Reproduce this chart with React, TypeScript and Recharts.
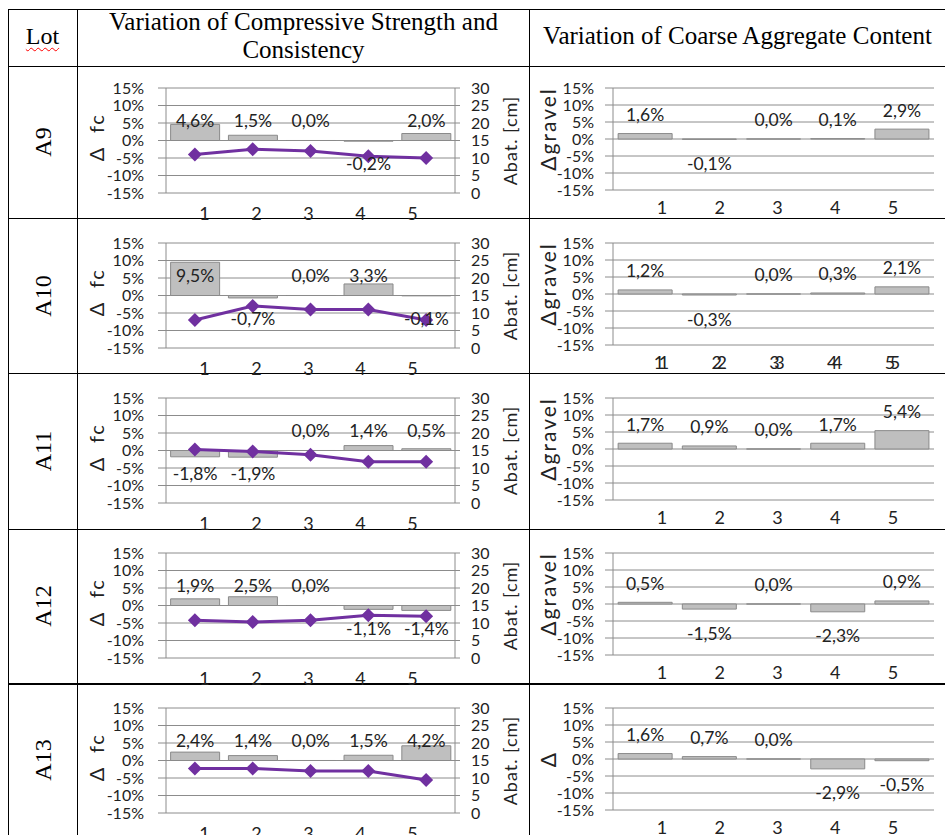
import React from "react";
import { ComposedChart, BarChart, Bar, Line, XAxis, YAxis, CartesianGrid, LabelList } from "recharts";

const LOTS = ["A9", "A10", "A11", "A12", "A13"];
const SAMPLES = ["1", "2", "3", "4", "5"];

// variation of compressive strength, Δ fc (%)
const FC_A9 = [4.6, 1.5, 0.0, -0.2, 2.0];
const FC_A10 = [9.5, -0.7, 0.0, 3.3, -0.1];
const FC_A11 = [-1.8, -1.9, 0.0, 1.4, 0.5];
const FC_A12 = [1.9, 2.5, 0.0, -1.1, -1.4];
const FC_A13 = [2.4, 1.4, 0.0, 1.5, 4.2];

// slump, Abat. (cm)
const SLUMP_A9 = [11, 12.5, 12, 10.5, 10];
const SLUMP_A10 = [8, 12, 11, 11, 8];
const SLUMP_A11 = [15.3, 14.7, 13.8, 11.8, 11.8];
const SLUMP_A12 = [10.8, 10.3, 10.8, 12.2, 11.9];
const SLUMP_A13 = [12.7, 12.7, 12, 12, 9.4];

// variation of coarse aggregate content, Δ gravel (%)
const GRAVEL_A9 = [1.6, -0.1, 0.0, 0.1, 2.9];
const GRAVEL_A10 = [1.2, -0.3, 0.0, 0.3, 2.1];
const GRAVEL_A11 = [1.7, 0.9, 0.0, 1.7, 5.4];
const GRAVEL_A12 = [0.5, -1.5, 0.0, -2.3, 0.9];
const GRAVEL_A13 = [1.6, 0.7, 0.0, -2.9, -0.5];

const GRAVEL_TITLES = ["Δgravel", "Δgravel", "Δgravel", "Δgravel", "Δ"];

const PCT_TICKS = [-15, -10, -5, 0, 5, 10, 15];
const CM_TICKS = [0, 5, 10, 15, 20, 25, 30];

const FC = [FC_A9, FC_A10, FC_A11, FC_A12, FC_A13];
const SLUMP = [SLUMP_A9, SLUMP_A10, SLUMP_A11, SLUMP_A12, SLUMP_A13];
const GRAVEL = [GRAVEL_A9, GRAVEL_A10, GRAVEL_A11, GRAVEL_A12, GRAVEL_A13];

// table layout
const ROW_TOPS = [66, 218, 373, 529, 683];
const PLOT_TOPS = [88, 243, 398, 553, 708];
const V_LINES = [8, 77, 529];

const SANS = "Lato, 'Open Sans', sans-serif";
const SERIF = "'Liberation Serif', 'Times New Roman', serif";
const GRID = "#8c8c8c";
const BAR_FILL = "#bfbfbf";
const BAR_STROKE = "#8a8a8a";
const PURPLE = "#7030a0";
const INK = "#222";

const fmt = (v: number) => `${v.toFixed(1).replace(".", ",")}%`;

function edges(p: any) {
  const y = Number(p.y);
  const h = Number(p.height) || 0;
  return { top: Math.min(y, y + h), bottom: Math.max(y, y + h) };
}

// left charts: labels sit at a fixed distance from the zero line
function FixedLabel(p: any) {
  const s = String(p.value);
  const neg = s.startsWith("-");
  const { top, bottom } = edges(p);
  const ty = neg ? top + 23 : bottom - 20;
  return (
    <text x={p.x + p.width / 2} y={ty} textAnchor="middle" dominantBaseline="central"
      fontFamily={SANS} fontSize={17.5} fill={INK}>
      {s}
    </text>
  );
}

// right charts: labels just outside the bar end
function EndLabel(p: any) {
  const s = String(p.value);
  const neg = s.startsWith("-");
  const { top, bottom } = edges(p);
  const ty = neg ? bottom + 24 : top - 19;
  return (
    <text x={p.x + p.width / 2} y={ty} textAnchor="middle" dominantBaseline="central"
      fontFamily={SANS} fontSize={17.5} fill={INK}>
      {s}
    </text>
  );
}

function Diamond(p: any) {
  const { cx, cy, index } = p;
  const r = 7;
  return (
    <path key={`dm-${index}`} d={`M${cx},${cy - r}L${cx + r},${cy}L${cx},${cy + r}L${cx - r},${cy}Z`}
      fill={PURPLE} />
  );
}

// category labels are drawn a bit closer together than the bars
function squeezedTick(center: number, shift: number, dy: number, doubled = false) {
  return (p: any) => {
    const x = center + (p.x - center) * 0.9 + shift;
    const common = { y: p.y + dy, textAnchor: "middle" as const, dominantBaseline: "central" as const,
      fontFamily: SANS, fontSize: 18, fill: INK };
    if (doubled) {
      return (
        <g>
          <text x={x - 3} {...common}>{p.payload.value}</text>
          <text x={x + 2} {...common}>{p.payload.value}</text>
        </g>
      );
    }
    return <text x={x} {...common}>{p.payload.value}</text>;
  };
}

function axisTitle(text: string, dx: number, dyCenter: number, size: number, spacing: number) {
  return (p: any) => {
    const vb = p.viewBox || {};
    const cx = vb.x + dx;
    const cy = vb.y + vb.height / 2 + dyCenter;
    return (
      <text x={cx} y={cy} transform={`rotate(-90, ${cx}, ${cy})`} textAnchor="middle"
        dominantBaseline="central" fontFamily={SANS} fontSize={size} letterSpacing={spacing} fill={INK}>
        {text}
      </text>
    );
  };
}

const pctTick = { fontFamily: SANS, fontSize: 16, fill: INK };

function StrengthChart({ i }: { i: number }) {
  const data = SAMPLES.map((s, k) => ({ s, fc: FC[i][k], fcText: fmt(FC[i][k]), slump: SLUMP[i][k] }));
  return (
    <div style={{ position: "absolute", left: 78, top: PLOT_TOPS[i] - 20 }}>
      <ComposedChart width={451} height={160} data={data} barCategoryGap="8%"
        margin={{ top: 20, right: 0, bottom: 0, left: 0 }}>
        <CartesianGrid yAxisId="pct" vertical={false} stroke={GRID} />
        <XAxis dataKey="s" axisLine={false} tickLine={false} tickSize={0} tickMargin={0} height={35}
          interval={0} tick={squeezedTick(88 + 289 / 2, -2, 20)} />
        <YAxis yAxisId="pct" domain={[-15, 15]} ticks={PCT_TICKS} interval={0} width={88}
          tickFormatter={(v: number) => `${v}%`} axisLine={{ stroke: GRID }} tickLine={{ stroke: GRID }}
          tickSize={8} tickMargin={14} tick={pctTick} allowDataOverflow
          label={axisTitle("Δ\u00a0\u00a0fc", 18, -3, 20, 1.5)} />
        <YAxis yAxisId="cm" orientation="right" domain={[0, 30]} ticks={CM_TICKS} interval={0} width={74}
          axisLine={{ stroke: GRID }} tickLine={{ stroke: GRID }} tickSize={5} tickMargin={11}
          tick={pctTick} allowDataOverflow
          label={axisTitle("Abat. [cm]", 55, 0, 18, 1)} />
        <Bar yAxisId="pct" dataKey="fc" fill={BAR_FILL} stroke={BAR_STROKE} strokeWidth={1}
          minPointSize={0.01} isAnimationActive={false}>
          <LabelList dataKey="fcText" content={FixedLabel} />
        </Bar>
        <Line yAxisId="cm" dataKey="slump" type="linear" stroke={PURPLE} strokeWidth={3}
          dot={Diamond} activeDot={false} isAnimationActive={false} />
      </ComposedChart>
    </div>
  );
}

function GravelChart({ i }: { i: number }) {
  const data = SAMPLES.map((s, k) => ({ s, g: GRAVEL[i][k], gText: fmt(GRAVEL[i][k]) }));
  const title = GRAVEL_TITLES[i];
  return (
    <div style={{ position: "absolute", left: 530, top: PLOT_TOPS[i] - 20 }}>
      <BarChart width={415} height={157} data={data} barCategoryGap="8%"
        margin={{ top: 20, right: 11, bottom: 0, left: 0 }}>
        <CartesianGrid vertical={false} stroke={GRID} />
        <XAxis dataKey="s" axisLine={false} tickLine={false} tickSize={0} tickMargin={0} height={35}
          interval={0} tick={squeezedTick(83 + 321 / 2, 4, 17, i === 1)} />
        <YAxis domain={[-15, 15]} ticks={PCT_TICKS} interval={0} width={83}
          tickFormatter={(v: number) => `${v}%`} axisLine={{ stroke: GRID }} tickLine={{ stroke: GRID }}
          tickSize={8} tickMargin={11} tick={pctTick} allowDataOverflow
          label={axisTitle(title, 17, title.length > 2 ? -10 : 0, 21, 2)} />
        <Bar dataKey="g" fill={BAR_FILL} stroke={BAR_STROKE} strokeWidth={1} minPointSize={0.01}
          isAnimationActive={false}>
          <LabelList dataKey="gText" content={EndLabel} />
        </Bar>
      </BarChart>
    </div>
  );
}

export default function App() {
  const hLines = [9, ...ROW_TOPS];
  return (
    <div style={{ position: "absolute", left: 0, top: 0, width: 945, height: 835, overflow: "hidden",
      background: "#fff", color: "#000" }}>
      {hLines.map((y, k) => (
        <div key={`h${k}`} style={{ position: "absolute", left: 8, right: 0, top: y,
          height: k === hLines.length - 1 ? 2 : 1, background: "#000" }} />
      ))}
      {V_LINES.map((x) => (
        <div key={`v${x}`} style={{ position: "absolute", top: 9, bottom: 0, left: x, width: 1,
          background: "#000" }} />
      ))}

      <div style={{ position: "absolute", left: 8, width: 69, top: 23, textAlign: "center",
        fontFamily: SERIF, fontSize: 24 }}>
        <span style={{ textDecoration: "underline wavy red", textDecorationThickness: 1,
          textUnderlineOffset: 3 }}>Lot</span>
      </div>
      <div style={{ position: "absolute", left: 78, width: 451, top: 8, textAlign: "center",
        fontFamily: SERIF, fontSize: 25, lineHeight: "28px" }}>
        Variation of Compressive Strength and<br />Consistency
      </div>
      <div style={{ position: "absolute", left: 530, width: 415, top: 22, textAlign: "center",
        fontFamily: SERIF, fontSize: 25 }}>
        Variation of Coarse Aggregate Content
      </div>

      {LOTS.map((lot, i) => {
        const bottom = i + 1 < ROW_TOPS.length ? ROW_TOPS[i + 1] : 837;
        const mid = (ROW_TOPS[i] + bottom) / 2;
        return (
          <div key={lot} style={{ position: "absolute", left: 43, top: mid,
            transform: "translate(-50%, -50%) rotate(-90deg)", fontFamily: SERIF, fontSize: 24,
            whiteSpace: "nowrap" }}>
            {lot}
          </div>
        );
      })}

      {LOTS.map((lot, i) => (
        <React.Fragment key={`c${lot}`}>
          <StrengthChart i={i} />
          <GravelChart i={i} />
        </React.Fragment>
      ))}
    </div>
  );
}
